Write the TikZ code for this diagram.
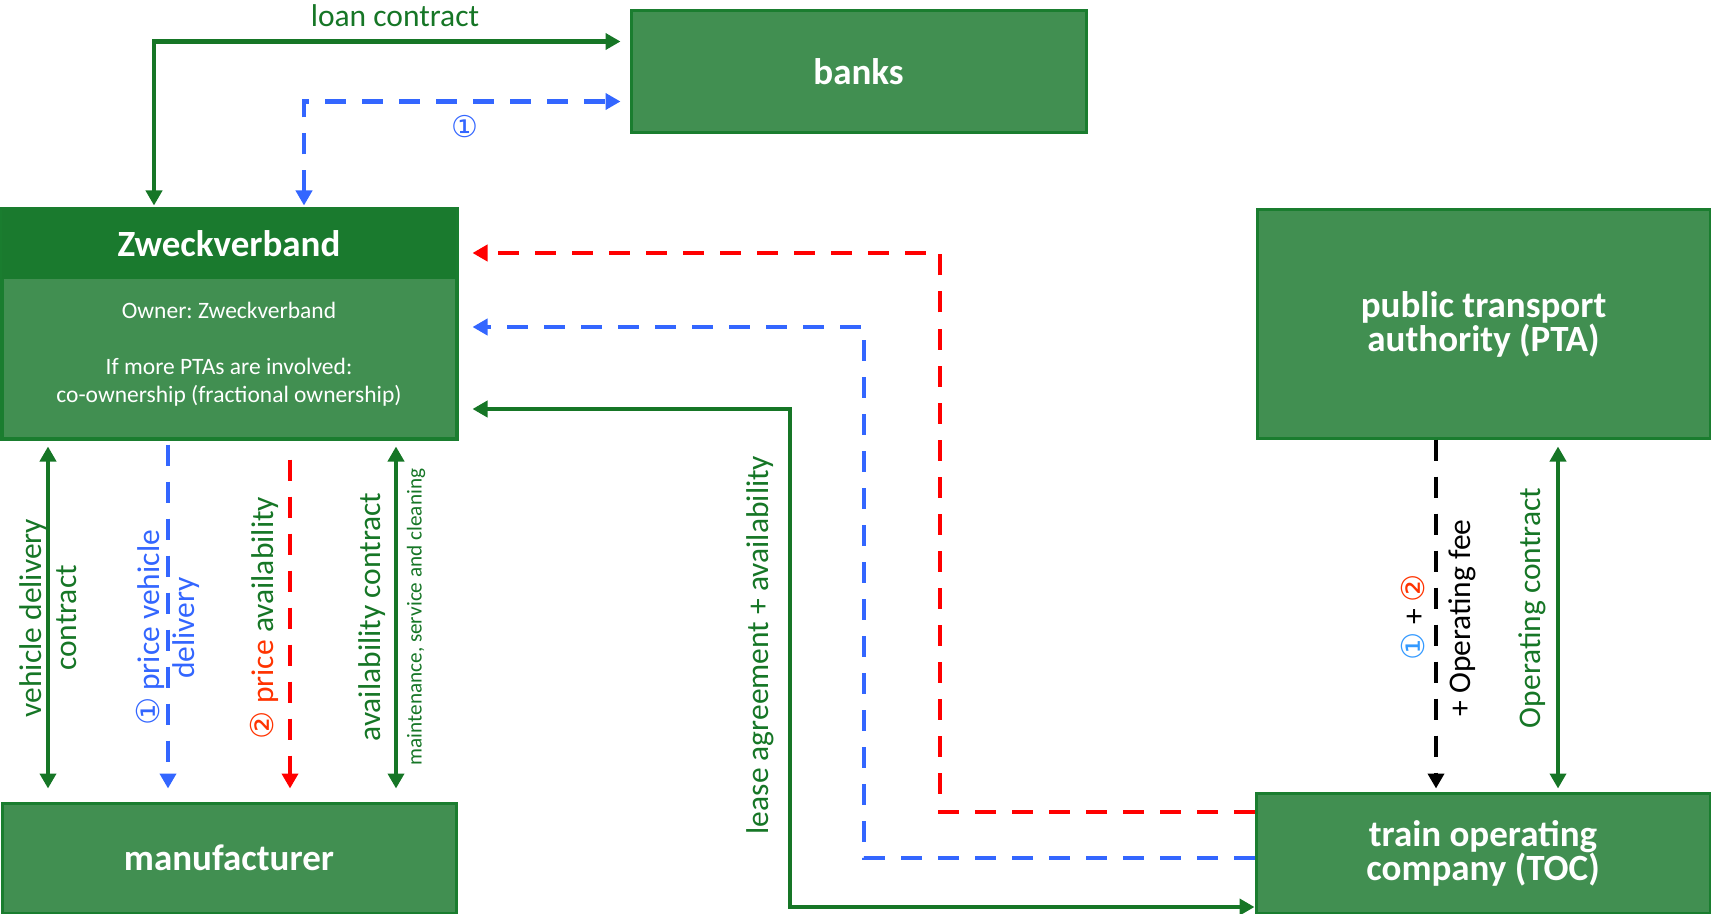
\documentclass[tikz,border=0pt]{standalone}
\usepackage{fontspec}
\setmainfont{Carlito}
\newfontfamily\djv{DejaVu Sans}
\usetikzlibrary{arrows.meta}
\definecolor{boxfill}{RGB}{65,143,81}
\definecolor{headfill}{RGB}{26,122,46}
\definecolor{bord}{RGB}{26,125,47}
\definecolor{gline}{RGB}{22,118,38}
\definecolor{bline}{RGB}{51,102,255}
\definecolor{rline}{RGB}{255,0,0}
\definecolor{ored}{RGB}{255,51,0}
\definecolor{lblue}{RGB}{51,153,255}
\frenchspacing
\begin{document}
\begin{tikzpicture}[x=0.5pt,y=-0.5pt,
 box/.style={draw=bord,line width=1.5pt,fill=boxfill,text=white,align=center,inner sep=0pt,font=\bfseries\fontsize{18.5}{17}\selectfont},
 conn/.style={line width=2.25pt,>={Triangle[length=7.5pt,width=8pt]}},
 gcon/.style={conn,draw=gline},
 bcon/.style={conn,draw=bline,dash pattern=on 10.5pt off 8pt},
 rcon/.style={conn,draw=rline,dash pattern=on 10.5pt off 8pt},
 kcon/.style={conn,draw=black,dash pattern=on 10.5pt off 8pt},
 lab/.style={font=\fontsize{15.75}{17.5}\selectfont,align=center,inner sep=0pt},
 zwtext/.style={text=white,font=\fontsize{11.75}{14}\selectfont,inner sep=0pt,anchor=base}]
\useasboundingbox (0,0) rectangle (1711,914);

% boxes
\node[box,minimum width=227.5pt,minimum height=61pt] (banks) at (858.5,72) {banks};
\node[box,minimum width=227pt,minimum height=114pt] (zw) at (229,324) {};
\node[fill=headfill,minimum width=227pt,minimum height=35pt,inner sep=0pt,anchor=north,text=white,font=\bfseries\fontsize{18.5}{17}\selectfont] (zwh) at (zw.north) {Zweckverband};
\draw[bord,line width=1.5pt] (zw.north west) rectangle (zw.south east);
\node[zwtext] (zo) at (229,319) {Owner: Zweckverband};
\node[zwtext] (zi) at (229,374) {If more PTAs are involved:};
\node[zwtext] (zc) at (229,402) {co-ownership (fractional ownership)};
\node[box,minimum width=226.5pt,minimum height=114pt] (pta) at (1483.5,324) {public transport\\authority (PTA)};
\node[box,minimum width=227pt,minimum height=55pt] (man) at (229,858) {manufacturer};
\node[box,minimum width=227pt,minimum height=60pt] (toc) at (1483,853) {train operating\\company (TOC)};

% top connectors
\coordinate (cL) at (154,41.5);
\coordinate (cB) at (304,101.5);
\draw[gcon,<->,shorten <=1.5pt,shorten >=4.5pt] (zw.north -| cL) |- (banks.west |- cL);
\draw[bcon,<->,shorten <=1.5pt,shorten >=4.5pt] (zw.north -| cB) |- (banks.west |- cB);
\node[lab,text=gline,anchor=base] (loan) at (395,27) {loan contract};
\node[text=bline,font=\djv\fontsize{15}{16}\selectfont,inner sep=0pt] (c1) at (465,127) {①};

% bottom-left connectors
\coordinate (cVD) at (48,0);
\coordinate (cPV) at (168,0);
\coordinate (cPA) at (290,0);
\coordinate (cAC) at (396,0);
\draw[gcon,<->,shorten <=3.5pt,shorten >=6.5pt] (zw.south -| cVD) -- (man.north -| cVD);
\draw[bcon,->,shorten <=2.5pt,shorten >=6.5pt] (zw.south -| cPV) -- (man.north -| cPV);
\draw[rcon,->,shorten <=10pt,shorten >=6.5pt] (zw.south -| cPA) -- (man.north -| cPA);
\draw[gcon,<->,shorten <=3.5pt,shorten >=6.5pt] (zw.south -| cAC) -- (man.north -| cAC);
\node[lab,rotate=90,text=gline] (lvd) at (48,618) {vehicle delivery\\contract};
\node[lab,rotate=90,text=bline] (lpv) at (168,628) {{\djv ①} price vehicle\\delivery};
\node[lab,rotate=90,text=gline] (lpa) at (264,618) {\textcolor{ored}{{\djv ②} price} availability};
\node[lab,rotate=90,text=gline] (lac) at (372,617) {availability contract};
\node[rotate=90,text=gline,font=\fontsize{10.6}{12}\selectfont,inner sep=0pt] (lmt) at (416,617) {maintenance, service and cleaning};

% middle connectors
\coordinate (rA) at (940,812);
\coordinate (rB) at (940,253);
\coordinate (bA) at (864,858);
\coordinate (bB) at (864,327);
\coordinate (gA) at (790,409);
\coordinate (gB) at (790,907);
\draw[rcon,->,shorten >=7.5pt] (toc.west |- rA) -- (rA) -- (rB) -- (zw.east |- rB);
\draw[bcon,->,shorten >=7.5pt] (toc.west |- bA) -- (bA) -- (bB) -- (zw.east |- bB);
\draw[gcon,<->,shorten <=7.5pt] (zw.east |- gA) -- (gA) -- (gB) -- (toc.west |- gB);
\node[lab,rotate=90,text=gline] (lla) at (760,645) {lease agreement + availability};

% right connectors
\coordinate (kX) at (1436,0);
\coordinate (oX) at (1558,0);
\draw[kcon,->,shorten >=1.5pt] (pta.south -| kX) -- (toc.north -| kX);
\draw[gcon,<->,shorten <=3.5pt,shorten >=1.5pt] (pta.south -| oX) -- (toc.north -| oX);
\node[lab,rotate=90] (l12) at (1413,617) {\textcolor{lblue}{\djv ①} + \textcolor{ored}{\djv ②}};
\node[lab,rotate=90] (lof) at (1462,618) {+ Operating fee};
\node[lab,rotate=90,text=gline] (loc) at (1532,608) {Operating contract};
\end{tikzpicture}
\end{document}
